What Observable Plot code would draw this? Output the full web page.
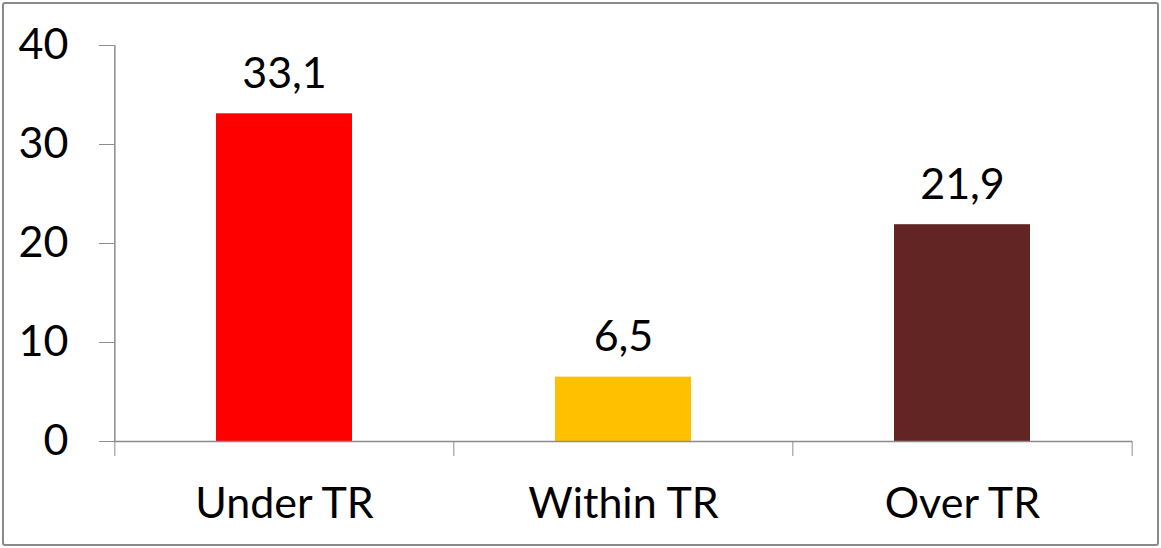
<!DOCTYPE html>
<html>
<head>
<meta charset="utf-8">
<script src="https://cdn.jsdelivr.net/npm/d3@7"></script>
<script src="https://cdn.jsdelivr.net/npm/@observablehq/plot@0.6"></script>
<style>
  html, body { margin: 0; padding: 0; background: #fff; }
  #wrap { position: relative; width: 1161px; height: 548px; }
  #border { position: absolute; left: 2px; top: 2px; width: 1157px; height: 544px; box-sizing: border-box; border: 2px solid #8a8a8a; border-radius: 3px; pointer-events: none; }
  #chart { position: absolute; left: 0; top: 0; }
</style>
</head>
<body>
<div id="wrap"><div id="chart"></div><div id="border"></div></div>
<script>
const categories = ["Under TR", "Within TR", "Over TR"];
const values = [33.1, 6.5, 21.9];
const colors = ["#FF0000", "#FFC000", "#632523"];
const yTicks = [0, 10, 20, 30, 40];

const data = categories.map((c, i) => ({category: c, value: values[i], color: colors[i]}));

const W = 1161, H = 548;
const mL = 114, mR = 29, mT = 45, mB = 107;
const step = (W - mL - mR) / categories.length;
const axisColor = "#8c8c8c";
const font = "Lato, 'Open Sans', sans-serif";

const plot = Plot.plot({
  width: W,
  height: H,
  marginLeft: mL,
  marginRight: mR,
  marginTop: mT,
  marginBottom: mB,
  style: {fontFamily: font, fontSize: "43px", color: "#000", background: "transparent", overflow: "visible"},
  x: {domain: categories, paddingInner: 0.6, paddingOuter: 0.3, label: null},
  y: {domain: [0, 40], label: null},
  marks: [
    Plot.barY(data, {x: "category", y: "value", fill: "color"}),
    Plot.text(data, {x: "category", y: "value", text: d => String(d.value).replace(".", ","), dy: -26, lineAnchor: "bottom", fill: "#000", fontSize: 43}),
    // y axis with line
    Plot.axisY({ticks: yTicks, tickSize: 15, tickPadding: 31, stroke: axisColor, fill: "#000", fontSize: 43, tickFormat: d => String(d), label: null}),
    Plot.ruleX([0], {x: () => categories[0], dx: -step / 2, y1: 0, y2: 40, stroke: axisColor, strokeWidth: 1.5}),
    // x baseline
    Plot.ruleY([0], {stroke: axisColor, strokeWidth: 1.5}),
    // x category labels
    Plot.axisX({tickSize: 0, tickPadding: 46, fill: "#000", fontSize: 43, label: null}),
    // boundary ticks
    Plot.axisX({tickSize: 15, tickFormat: () => "", stroke: axisColor, dx: -step / 2, label: null}),
    Plot.axisX({ticks: [categories[categories.length - 1]], tickSize: 15, tickFormat: () => "", stroke: axisColor, dx: step / 2, label: null})
  ]
});
document.getElementById("chart").appendChild(plot);
</script>
</body>
</html>
